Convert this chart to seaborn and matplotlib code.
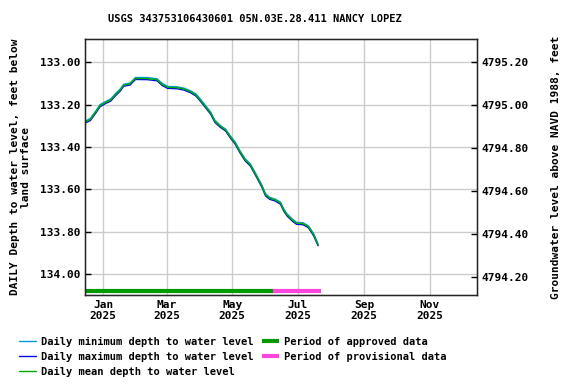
import matplotlib
matplotlib.use("Agg")
import matplotlib.pyplot as plt
import matplotlib.dates as mdates
import pandas as pd
import seaborn as sns

# readings from the hydrograph
dates = ["2024-12-16", "2024-12-20", "2024-12-25", "2024-12-29", "2025-01-03", "2025-01-08",
         "2025-01-12", "2025-01-17", "2025-01-20", "2025-01-26", "2025-01-31", "2025-02-11",
         "2025-02-20", "2025-02-25", "2025-03-02", "2025-03-11", "2025-03-17", "2025-03-23",
         "2025-03-28", "2025-04-01", "2025-04-06", "2025-04-11", "2025-04-15", "2025-04-20",
         "2025-04-25", "2025-04-29", "2025-05-04", "2025-05-08", "2025-05-13", "2025-05-18",
         "2025-05-24", "2025-05-29", "2025-06-01", "2025-06-05", "2025-06-10", "2025-06-15",
         "2025-06-18", "2025-06-21", "2025-06-26", "2025-06-30", "2025-07-06", "2025-07-11",
         "2025-07-16", "2025-07-20"]

depth_mean = [133.280, 133.270, 133.235, 133.205, 133.190, 133.178, 133.155, 133.130, 133.108,
              133.102, 133.076, 133.077, 133.082, 133.105, 133.118, 133.120, 133.126, 133.138,
              133.153, 133.176, 133.208, 133.240, 133.279, 133.302, 133.320, 133.350, 133.383,
              133.420, 133.460, 133.485, 133.540, 133.588, 133.625, 133.642, 133.650, 133.665,
              133.697, 133.720, 133.745, 133.760, 133.762, 133.776, 133.815, 133.862]

depth_min = [133.276, 133.265, 133.230, 133.200, 133.186, 133.173, 133.150, 133.125, 133.104,
             133.098, 133.072, 133.072, 133.078, 133.100, 133.114, 133.116, 133.122, 133.134,
             133.148, 133.171, 133.203, 133.235, 133.274, 133.298, 133.316, 133.345, 133.378,
             133.415, 133.455, 133.480, 133.535, 133.583, 133.620, 133.638, 133.646, 133.660,
             133.692, 133.715, 133.740, 133.756, 133.758, 133.772, 133.810, 133.858]

depth_max = [133.285, 133.275, 133.240, 133.210, 133.195, 133.183, 133.160, 133.135, 133.113,
             133.107, 133.081, 133.082, 133.087, 133.110, 133.123, 133.125, 133.131, 133.143,
             133.158, 133.181, 133.213, 133.245, 133.284, 133.307, 133.325, 133.355, 133.388,
             133.425, 133.465, 133.490, 133.545, 133.593, 133.630, 133.647, 133.655, 133.670,
             133.702, 133.725, 133.750, 133.765, 133.767, 133.781, 133.820, 133.866]

approved_period = ["2024-12-16", "2025-06-08"]
provisional_period = ["2025-06-08", "2025-07-23"]
period_depth = 134.08

df = pd.DataFrame({"date": pd.to_datetime(dates), "min": depth_min,
                   "max": depth_max, "mean": depth_mean})

sns.set_style("white")
plt.rcParams["font.family"] = ["DejaVu Sans Mono"]
plt.rcParams["font.weight"] = "bold"
plt.rcParams["font.size"] = 8
for key in ["text.color", "axes.labelcolor", "xtick.color", "ytick.color"]:
    plt.rcParams[key] = "black"

fig, ax = plt.subplots(figsize=(5.76, 3.84), dpi=100)
fig.subplots_adjust(left=85 / 576, right=477 / 576, top=1 - 39 / 384, bottom=1 - 295 / 384)

sns.lineplot(data=df, x="date", y="min", ax=ax, color="#0099dd", lw=1,
             label="Daily minimum depth to water level", legend=False)
sns.lineplot(data=df, x="date", y="max", ax=ax, color="#0000ee", lw=1,
             label="Daily maximum depth to water level", legend=False)
sns.lineplot(data=df, x="date", y="mean", ax=ax, color="#00aa00", lw=1,
             label="Daily mean depth to water level", legend=False)
ax.plot(pd.to_datetime(approved_period), [period_depth] * 2, color="#009900", lw=3,
        solid_capstyle="butt", label="Period of approved data")
ax.plot(pd.to_datetime(provisional_period), [period_depth] * 2, color="#ff44dd", lw=3,
        solid_capstyle="butt", label="Period of provisional data")

ax.set_xlim(pd.Timestamp("2024-12-15"), pd.Timestamp("2025-12-15"))
ax.set_ylim(134.099, 132.890)
ax.set_yticks([133.0, 133.2, 133.4, 133.6, 133.8, 134.0])
ax.yaxis.set_major_formatter(matplotlib.ticker.FormatStrFormatter("%.2f"))
ax.xaxis.set_major_locator(mdates.MonthLocator(bymonth=[1, 3, 5, 7, 9, 11]))
ax.xaxis.set_major_formatter(mdates.DateFormatter("%b\n%Y"))
ax.grid(True, color="#cccccc", lw=1)
ax.tick_params(direction="in", length=4, width=1, labelsize=8)
for s in ax.spines.values():
    s.set_color("black")
    s.set_linewidth(1)
ax.set_xlabel("")
ax.set_ylabel("DAILY Depth to water level, feet below\nland surface", fontsize=8,
              fontweight="bold", labelpad=6)
fig.text(254.5 / 576, 1 - 19 / 384, "USGS 343753106430601 05N.03E.28.411 NANCY LOPEZ",
         fontsize=7.5, fontweight="bold", ha="center", va="center")

ax2 = ax.twinx()
ax2.set_ylim(4794.115, 4795.306)
ax2.set_yticks([4794.2, 4794.4, 4794.6, 4794.8, 4795.0, 4795.2])
ax2.yaxis.set_major_formatter(matplotlib.ticker.FormatStrFormatter("%.2f"))
ax2.tick_params(direction="in", length=4, width=1, labelsize=8)
ax2.set_ylabel("Groundwater level above NAVD 1988, feet", fontsize=8,
               fontweight="bold", labelpad=16)
ax2.grid(False)

handles, labels = ax.get_legend_handles_labels()
fig.legend(handles, labels, ncol=2, loc="lower left", bbox_to_anchor=(0.017, -0.005),
           frameon=False, fontsize=7.5, handlelength=1.6, handletextpad=0.5,
           columnspacing=0.8, labelspacing=0.45)

fig.savefig("out.png", dpi=100)
